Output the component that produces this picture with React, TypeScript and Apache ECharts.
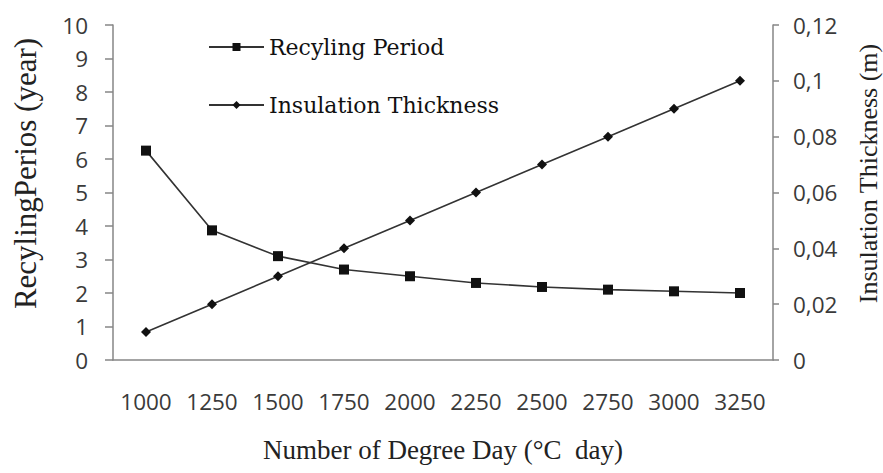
import React, { useEffect, useRef } from "react";
import * as echarts from "echarts";

const categories = ["1000", "1250", "1500", "1750", "2000", "2250", "2500", "2750", "3000", "3250"];
const recyclingPeriod = [6.25, 3.87, 3.1, 2.7, 2.5, 2.3, 2.18, 2.1, 2.05, 2.0];
const insulationThickness = [0.01, 0.02, 0.03, 0.04, 0.05, 0.06, 0.07, 0.08, 0.09, 0.1];

export default function App() {
  const ref = useRef<HTMLDivElement>(null);
  useEffect(() => {
    if (!ref.current) return;
    const chart = echarts.init(ref.current, null, { renderer: "svg" });
    const axisColor = "#868686";
    const labelStyle = { fontFamily: "Open Sans", fontSize: 22.5, color: "#3a3a3a" };
    const titleStyle = { fontFamily: "Liberation Serif", fontSize: 27, color: "#222" };
    chart.setOption({
      animation: false,
      backgroundColor: "#fff",
      grid: { left: 113, right: 110, top: 25, bottom: 113, outerBoundsMode: "none", containLabel: false },
      legend: {
        orient: "vertical",
        left: 203,
        top: 31,
        itemGap: 36,
        itemWidth: 55,
        itemHeight: 10,
        textStyle: { fontFamily: "DejaVu Serif", fontSize: 22, color: "#111" },
        data: ["Recyling Period", "Insulation Thickness"],
      },
      xAxis: {
        type: "category",
        data: categories,
        boundaryGap: true,
        axisLine: { lineStyle: { color: axisColor, width: 1.5 } },
        axisTick: { show: false },
        axisLabel: { ...labelStyle, margin: 30, interval: 0, hideOverlap: false },
        name: "Number of Degree Day (\u00B0C  day)",
        nameLocation: "middle",
        nameGap: 76,
        nameTextStyle: titleStyle,
      },
      yAxis: [
        {
          type: "value",
          min: 0,
          max: 10,
          interval: 1,
          splitLine: { show: false },
          axisLine: { show: true, lineStyle: { color: axisColor, width: 1.5 } },
          axisTick: { show: true, length: 8, lineStyle: { color: axisColor, width: 1.5 } },
          axisLabel: { ...labelStyle, margin: 25 },
          name: "RecylingPerios (year)",
          nameLocation: "middle",
          nameGap: 72,
          nameRotate: 90,
          nameTextStyle: { ...titleStyle, fontSize: 31, padding: [0, 0, 0, 38] },
        },
        {
          type: "value",
          min: 0,
          max: 0.12,
          interval: 0.02,
          position: "right",
          splitLine: { show: false },
          axisLine: { show: true, lineStyle: { color: axisColor, width: 1.5 } },
          axisTick: { show: true, length: 6, lineStyle: { color: axisColor, width: 1.5 } },
          axisLabel: {
            ...labelStyle,
            margin: 20,
            formatter: (v: number) => String(+v.toFixed(2)).replace(".", ","),
          },
          name: "Insulation Thickness (m)",
          nameLocation: "middle",
          nameGap: 82,
          nameRotate: 90,
          nameTextStyle: { ...titleStyle, fontSize: 26, padding: [0, 0, 0, 38] },
        },
      ],
      series: [
        {
          name: "Recyling Period",
          type: "line",
          yAxisIndex: 0,
          data: recyclingPeriod,
          symbol: "rect",
          symbolSize: 10,
          itemStyle: { color: "#111" },
          lineStyle: { color: "#333", width: 1.6 },
        },
        {
          name: "Insulation Thickness",
          type: "line",
          yAxisIndex: 1,
          data: insulationThickness,
          symbol: "diamond",
          symbolSize: 10,
          itemStyle: { color: "#111" },
          lineStyle: { color: "#333", width: 1.6 },
        },
      ],
    });
    return () => chart.dispose();
  }, []);
  return <div ref={ref} style={{ width: 883, height: 473, position: "absolute", left: 0, top: 0 }} />;
}
